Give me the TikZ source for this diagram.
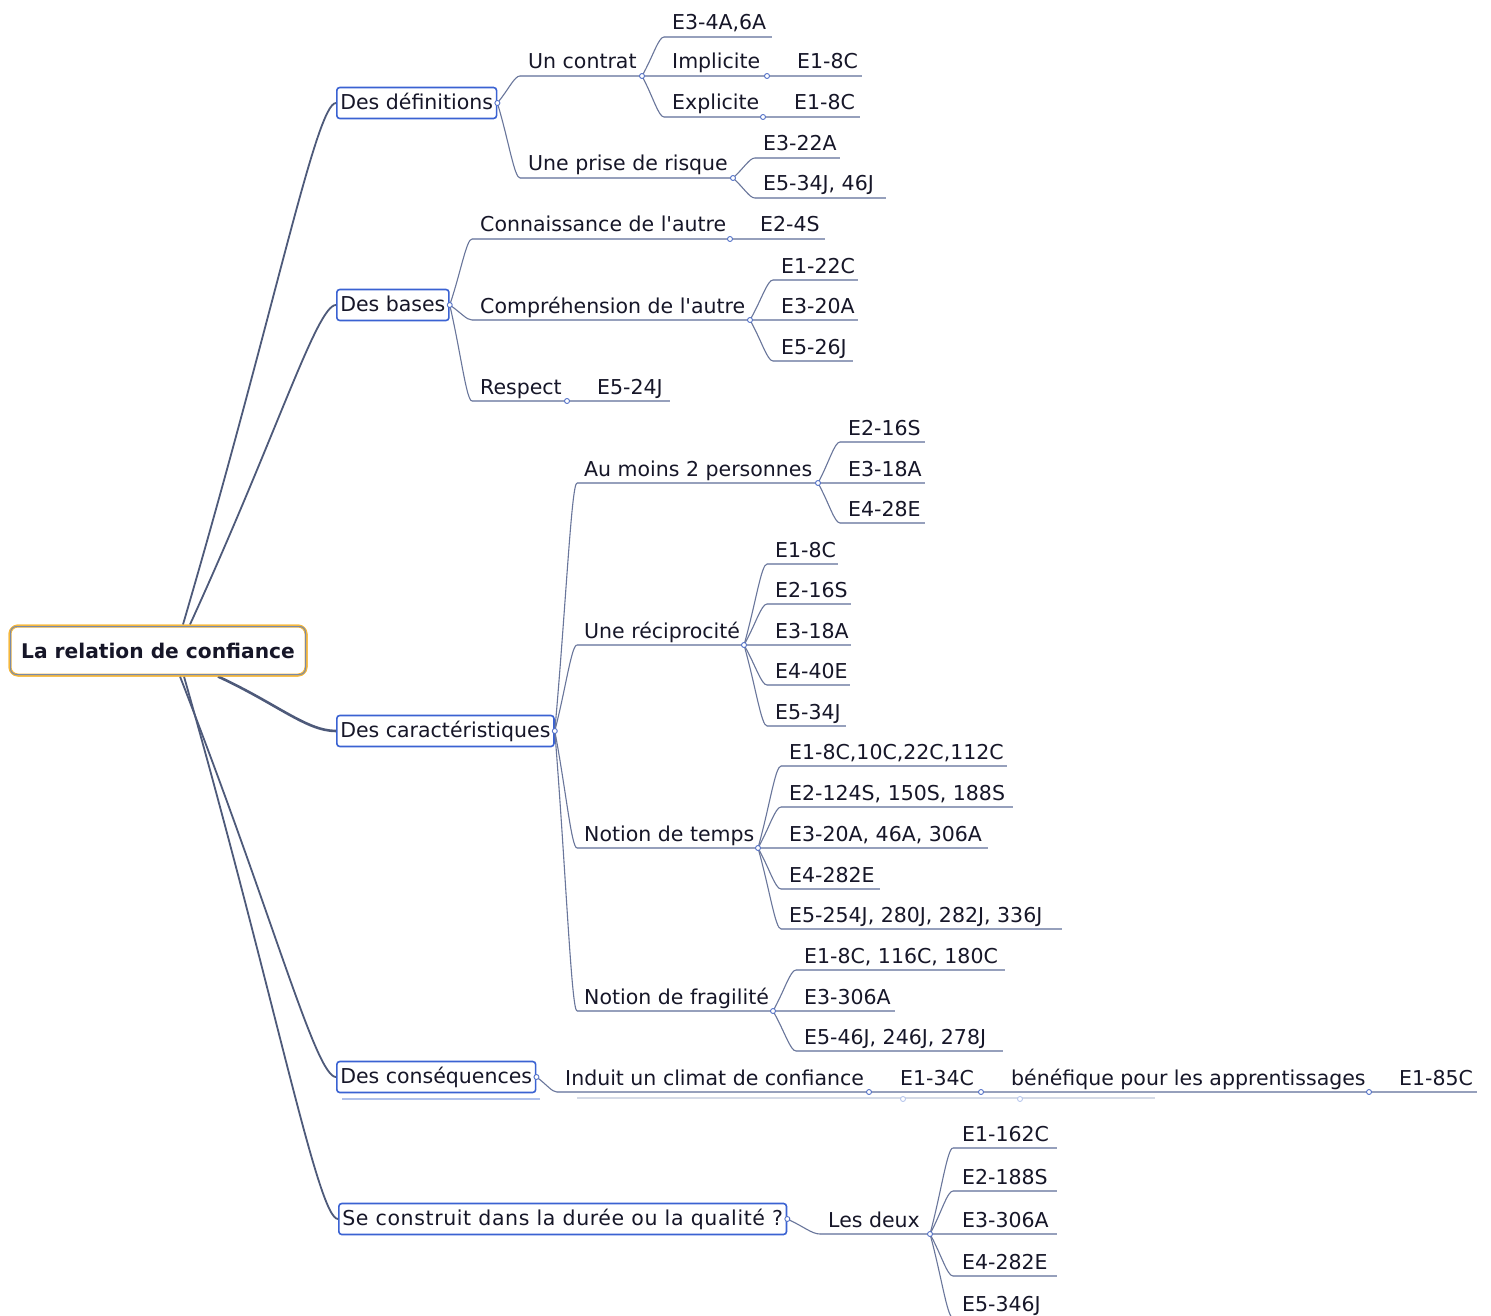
\documentclass[tikz,border=0pt]{standalone}
\usepackage{fontspec}
\setmainfont{DejaVu Sans}[Ligatures=TeXOff]
\usetikzlibrary{calc}
\definecolor{conn}{RGB}{78,90,122}
\definecolor{subcol}{RGB}{105,118,155}
\definecolor{ulcol}{RGB}{150,160,188}
\definecolor{boxblue}{RGB}{58,98,210}
\definecolor{knobblue}{RGB}{85,115,200}
\definecolor{rootor}{RGB}{246,184,60}
\definecolor{rootin}{RGB}{120,138,170}
\definecolor{txt}{RGB}{22,22,40}
\definecolor{ghosta}{RGB}{175,192,235}
\definecolor{ghostb}{RGB}{212,218,230}
\newcommand{\mmitem}[6]{%
  \coordinate (#1s) at (#2,#3);
  \coordinate (#1e) at (#5,#3);
  \node[lbl] (#1) at (#4,#3-7) {#6};
  \draw[uline] (#1s) -- (#1e);}
\begin{document}
\begin{tikzpicture}[x=1pt,y=-1pt,
  lbl/.style={anchor=base west, inner sep=0pt, font=\fontsize{20.5}{24}\selectfont, text=txt},
  topic/.style={draw=boxblue, line width=1.6pt, rounded corners=3pt, fill=white,
    inner xsep=3.5pt, inner ysep=0pt, text height=17pt, text depth=3.5pt,
    minimum height=31pt, anchor=west, font=\fontsize{20.5}{24}\selectfont, text=txt},
  rootbox/.style={draw=rootor, line width=3pt, rounded corners=8pt, fill=white,
    minimum width=296pt, minimum height=49pt, inner sep=0pt,
    font=\bfseries\fontsize{20.2}{24}\selectfont, text=txt},
  rootline/.style={draw=rootin, line width=1pt, rounded corners=6pt},
  mainc/.style={draw=conn, line width=1.8pt},
  subc/.style={draw=subcol, line width=1.1pt},
  uline/.style={draw=ulcol, line width=1.6pt},
  knob/.style={circle, draw=knobblue, fill=white, line width=0.9pt, inner sep=0pt, minimum size=5pt},
  ghostl/.style={draw=ghosta, line width=1.4pt},
  ghostm/.style={draw=ghostb, line width=1.4pt},
  ghostk/.style={circle, draw=ghosta, fill=white, line width=0.8pt, inner sep=0pt, minimum size=5pt},
  branch/.style={to path={.. controls ($(\tikztostart)!0.5!(\tikztotarget)$) and ($(\tikztotarget)!0.25!(\tikztostart|-\tikztotarget)$) .. (\tikztotarget)}},
  longbranch/.style={to path={.. controls ($(\tikztostart)!0.6!(\tikztotarget)$) and ($(\tikztotarget)!0.13!(\tikztostart|-\tikztotarget)$) .. (\tikztotarget)}}
]
\useasboundingbox (0,0) rectangle (1491,1316);
\fill[white] (0,0) rectangle (1491,1316);

% main topics
\node[topic] (def) at (336,103) {Des définitions};
\node[topic] (bas) at (336,305) {Des bases};
\node[topic] (car) at (336,731) {Des caractéristiques};
\node[topic] (cons) at (336,1077) {Des conséquences};
\node[topic] (sec) at (338,1219) {\addfontfeatures{LetterSpace=3}Se construit dans la durée ou la qualité ?};

% root
\node[rootbox] (root) at (158,650.5) {La relation de confiance};

% root connectors
\draw[mainc] ([xshift=25pt]root.north) to[longbranch] (def.west);
\draw[mainc] ([xshift=32pt]root.north) to[longbranch] (bas.west);
\draw[mainc, line width=2.6pt] ([xshift=60pt]root.south) to[branch] (car.west);
\draw[mainc] ([xshift=22pt]root.south) to[longbranch] (cons.west);
\draw[mainc] ([xshift=26pt]root.south) to[longbranch] (sec.west);

% redraw root on top
\node[rootbox] (root2) at (158,650.5) {La relation de confiance};
\draw[rootline] ([xshift=2pt,yshift=-2pt]root2.north west) rectangle ([xshift=-2pt,yshift=2pt]root2.south east);

% ghost lines under "Des conséquences"
\draw[ghostl] (342,1099) -- (540,1099);
\draw[ghostm] (577,1098) -- (1155,1098);

% ---------- Des définitions ----------
\mmitem{a1}{520}{76}{528}{642}{Un contrat}
\mmitem{a2}{520}{178}{528}{733}{Une prise de risque}
\mmitem{a11}{664}{37}{672}{772}{E3-4A,6A}
\mmitem{a12}{642}{76}{672}{767}{Implicite}
\mmitem{a121}{767}{76}{797}{862}{E1-8C}
\mmitem{a13}{664}{117}{672}{763}{Explicite}
\mmitem{a131}{763}{117}{794}{860}{E1-8C}
\mmitem{a21}{755}{158}{763}{840}{E3-22A}
\mmitem{a22}{755}{198}{763}{886}{E5-34J, 46J}
\draw[subc] (def.east) to[branch] (a1s);
\draw[subc] (def.east) to[branch] (a2s);
\draw[subc] (a1e) to[branch] (a11s);
\draw[subc] (a1e) to[branch] (a13s);
\draw[subc] (a2e) to[branch] (a21s);
\draw[subc] (a2e) to[branch] (a22s);

% ---------- Des bases ----------
\mmitem{b1}{472}{239}{480}{730}{Connaissance de l'autre}
\mmitem{b11}{730}{239}{760}{825}{E2-4S}
\mmitem{b2}{472}{320}{480}{750}{Compréhension de l'autre}
\mmitem{b21}{773}{280}{781}{858}{E1-22C}
\mmitem{b22}{750}{320}{781}{858}{E3-20A}
\mmitem{b23}{773}{361}{781}{853}{E5-26J}
\mmitem{b3}{472}{401}{480}{567}{Respect}
\mmitem{b31}{567}{401}{597}{670}{E5-24J}
\draw[subc] (bas.east) to[branch] (b1s);
\draw[subc] (bas.east) to[branch] (b2s);
\draw[subc] (bas.east) to[branch] (b3s);
\draw[subc] (b2e) to[branch] (b21s);
\draw[subc] (b2e) to[branch] (b23s);

% ---------- Des caractéristiques ----------
\mmitem{c1}{577}{483}{584}{818}{Au moins 2 personnes}
\mmitem{c11}{840}{442}{848}{925}{E2-16S}
\mmitem{c12}{818}{483}{848}{925}{E3-18A}
\mmitem{c13}{840}{523}{848}{925}{E4-28E}
\mmitem{c2}{577}{645}{584}{744}{Une réciprocité}
\mmitem{c21}{767}{564}{775}{838}{E1-8C}
\mmitem{c22}{767}{604}{775}{851}{E2-16S}
\mmitem{c23}{744}{645}{775}{851}{E3-18A}
\mmitem{c24}{767}{685}{775}{850}{E4-40E}
\mmitem{c25}{767}{726}{775}{846}{E5-34J}
\mmitem{c3}{577}{848}{584}{758}{Notion de temps}
\mmitem{c31}{781}{766}{789}{1007}{E1-8C,10C,22C,112C}
\mmitem{c32}{781}{807}{789}{1013}{E2-124S, 150S, 188S}
\mmitem{c33}{758}{848}{789}{988}{E3-20A, 46A, 306A}
\mmitem{c34}{781}{889}{789}{880}{E4-282E}
\mmitem{c35}{781}{929}{789}{1062}{E5-254J, 280J, 282J, 336J}
\mmitem{c4}{577}{1011}{584}{773}{Notion de fragilité}
\mmitem{c41}{796}{970}{804}{1005}{E1-8C, 116C, 180C}
\mmitem{c42}{773}{1011}{804}{895}{E3-306A}
\mmitem{c43}{796}{1051}{804}{1003}{E5-46J, 246J, 278J}
\draw[subc] (car.east) to[branch] (c1s);
\draw[subc] (car.east) to[branch] (c2s);
\draw[subc] (car.east) to[branch] (c3s);
\draw[subc] (car.east) to[branch] (c4s);
\draw[subc] (c1e) to[branch] (c11s);
\draw[subc] (c1e) to[branch] (c13s);
\draw[subc] (c2e) to[branch] (c21s);
\draw[subc] (c2e) to[branch] (c22s);
\draw[subc] (c2e) to[branch] (c24s);
\draw[subc] (c2e) to[branch] (c25s);
\draw[subc] (c3e) to[branch] (c31s);
\draw[subc] (c3e) to[branch] (c32s);
\draw[subc] (c3e) to[branch] (c34s);
\draw[subc] (c3e) to[branch] (c35s);
\draw[subc] (c4e) to[branch] (c41s);
\draw[subc] (c4e) to[branch] (c43s);

% ---------- Des conséquences ----------
\mmitem{d1}{557}{1092}{565}{869}{Induit un climat de confiance}
\mmitem{d11}{869}{1092}{900}{981}{E1-34C}
\mmitem{d12}{981}{1092}{1011}{1369}{bénéfique pour les apprentissages}
\mmitem{d13}{1369}{1092}{1399}{1477}{E1-85C}
\draw[subc] (cons.east) to[branch] (d1s);

% ---------- Se construit ----------
\mmitem{e1}{820}{1234}{828}{930}{Les deux}
\mmitem{e11}{953}{1148}{962}{1057}{E1-162C}
\mmitem{e12}{953}{1191}{962}{1057}{E2-188S}
\mmitem{e13}{930}{1234}{962}{1057}{E3-306A}
\mmitem{e14}{953}{1276}{962}{1057}{E4-282E}
\mmitem{e15}{953}{1318}{962}{1057}{E5-346J}
\draw[subc] (sec.east) to[branch] (e1s);
\draw[subc] (e1e) to[branch] (e11s);
\draw[subc] (e1e) to[branch] (e12s);
\draw[subc] (e1e) to[branch] (e14s);
\draw[subc] (e1e) to[branch] (e15s);

% knobs
\node[knob] (kdef) at (def.east) {};
\node[knob] (kbas) at (bas.east) {};
\node[knob] (kcar) at (car.east) {};
\node[knob] (kcons) at (cons.east) {};
\node[knob] (ksec) at (sec.east) {};
\node[knob] (ka1) at (a1e) {};
\node[knob] (ka2) at (a2e) {};
\node[knob] (ka12) at (a12e) {};
\node[knob] (ka13) at (a13e) {};
\node[knob] (kb1) at (b1e) {};
\node[knob] (kb2) at (b2e) {};
\node[knob] (kb3) at (b3e) {};
\node[knob] (kc1) at (c1e) {};
\node[knob] (kc2) at (c2e) {};
\node[knob] (kc3) at (c3e) {};
\node[knob] (kc4) at (c4e) {};
\node[knob] (kd1) at (d1e) {};
\node[knob] (kd11) at (d11e) {};
\node[knob] (kd12) at (d12e) {};
\node[knob] (ke1) at (e1e) {};
\node[ghostk] (kg1) at (903,1099) {};
\node[ghostk] (kg2) at (1020,1099) {};
\end{tikzpicture}
\end{document}
